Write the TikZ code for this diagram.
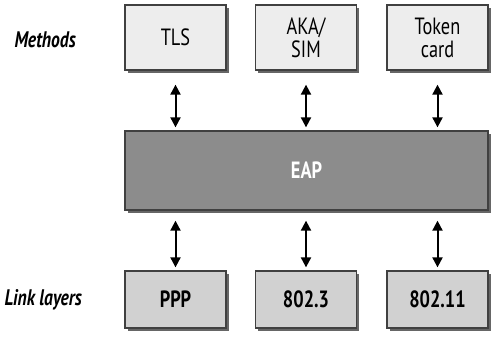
\documentclass[tikz,border=0pt]{standalone}
\usepackage{fontspec}
\setmainfont{PT Sans}[FakeStretch=0.78]
\usepackage{tikz}
\usetikzlibrary{arrows.meta,shadows}

\tikzset{
  layerbox/.style={draw=black!75,line width=1.3pt,minimum width=101pt,
    drop shadow={shadow xshift=2.5pt,shadow yshift=-2.5pt,fill=black!60,opacity=1},
    align=center,font=\fontsize{23.5}{23}\selectfont,inner sep=0pt},
  methodbox/.style={layerbox,fill=black!7,minimum height=65pt},
  linkbox/.style={layerbox,fill=black!18,minimum height=57pt,font=\fontsize{23.5}{23}\selectfont\bfseries},
  sidelabel/.style={anchor=west,font=\fontsize{22.5}{23}\selectfont\bfseries\itshape},
  biarrow/.style={{Triangle[width=10pt,length=10pt]}-{Triangle[width=10pt,length=10pt]},line width=2pt}
}

\begin{document}
\begin{tikzpicture}[x=1pt,y=-1pt]
\useasboundingbox (0,0) rectangle (494,338);
% methods row
\node[sidelabel] (methods) at (11,40) {Methods};
\node[methodbox] (tls) at (175.5,37.5) {TLS};
\node[methodbox] (aka) at (306,37.5) {AKA/\\SIM};
\node[methodbox] (token) at (437.5,37.5) {Token\\card};
% EAP layer
\node[layerbox,fill=black!45,minimum width=363pt,minimum height=79pt,
  text=white,font=\fontsize{23.5}{23}\selectfont\bfseries] (eap) at (306.5,170.5) {EAP};
% link layers row
\node[sidelabel] (links) at (1,300) {Link layers};
\node[linkbox] (ppp) at (175.5,299.5) {PPP};
\node[linkbox] (eth) at (306,299.5) {802.3};
\node[linkbox] (wlan) at (437.5,299.5) {802.11};
% arrows
\foreach \m in {tls,aka,token}
  \draw[biarrow,shorten <=14pt,shorten >=3pt] (\m.south) -- (\m.south |- eap.north);
\foreach \l in {ppp,eth,wlan}
  \draw[biarrow,shorten <=10pt,shorten >=3pt] (\l.north |- eap.south) -- (\l.north);
\end{tikzpicture}
\end{document}
